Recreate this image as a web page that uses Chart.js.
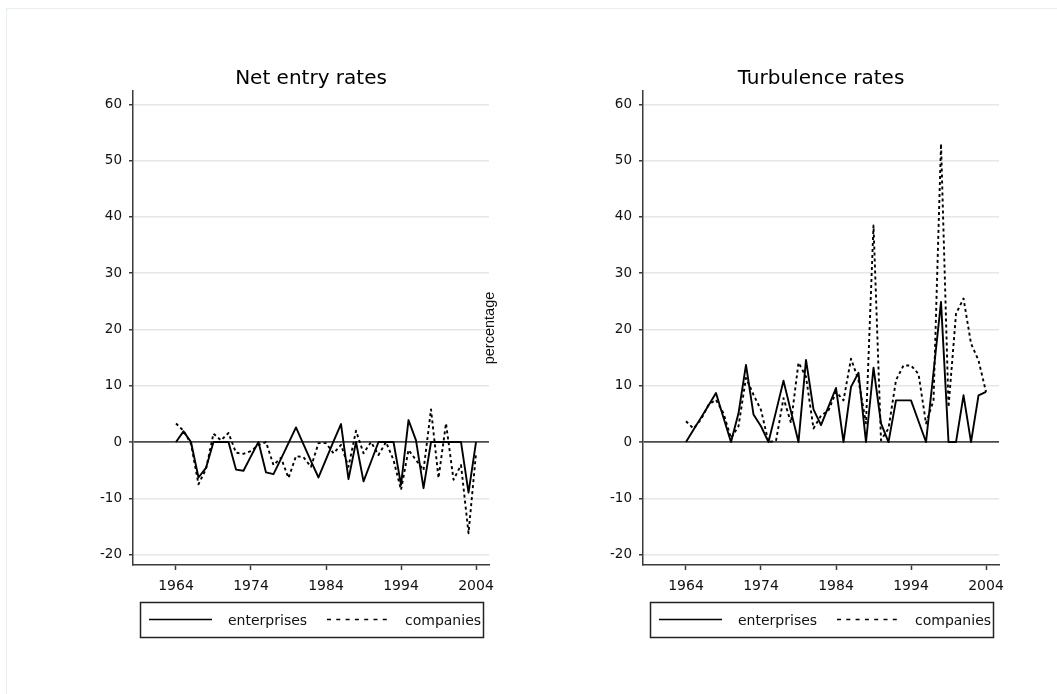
<!DOCTYPE html>
<html>
<head>
<meta charset="utf-8">
<title>Net entry and turbulence rates</title>
<script src="https://cdn.jsdelivr.net/npm/chart.js@4.4.1/dist/chart.umd.min.js"></script>
<style>
  html, body { margin: 0; padding: 0; background: #fff; }
  body { width: 1057px; height: 694px; position: relative; overflow: hidden; }
  .frame { position: absolute; left: 6px; top: 8px; width: 1070px; height: 710px; border: 1px solid #e8eeee; }
  canvas { position: absolute; top: 0; }
  #netChart { left: 0; }
  #turbChart { left: 470px; }
</style>
</head>
<body>
<div class="frame"></div>
<canvas id="netChart" width="528" height="694"></canvas>
<canvas id="turbChart" width="587" height="694"></canvas>
<script>
/* yearly rates, 1964-2004 (percent) */
const YEARS = [1964, 1965, 1966, 1967, 1968, 1969, 1970, 1971, 1972, 1973,
               1974, 1975, 1976, 1977, 1978, 1979, 1980, 1981, 1982, 1983,
               1984, 1985, 1986, 1987, 1988, 1989, 1990, 1991, 1992, 1993,
               1994, 1995, 1996, 1997, 1998, 1999, 2000, 2001, 2002, 2003, 2004];

const NET_ENTERPRISES = [0, 1.9, 0, -6.3, -4.6, 0, 0, 0, -4.9, -5.1,
                         -2.5, 0, -5.4, -5.7, -3.0, -0.2, 2.6, -0.4, -3.4, -6.3,
                         -3.1, 0.1, 3.2, -6.6, 0, -7.0, -3.5, 0, 0, 0,
                         -7.6, 3.9, 0.3, -8.2, 0, 0, 0, 0, 0, -9.0, 0];

const NET_COMPANIES = [3.3, 2.0, -0.3, -7.5, -4.8, 1.5, 0.3, 1.6, -1.9, -2.1,
                       -1.6, -0.5, 0, -4.1, -2.8, -6.4, -2.5, -2.7, -4.4, -0.2,
                       -0.2, -2.0, -0.5, -4.4, 2.0, -2.0, 0, -2.3, 0, -3.2,
                       -8.5, -1.4, -3.2, -5.0, 5.8, -6.4, 3.3, -6.7, -4.1, -16.2, -2.0];

const TURB_ENTERPRISES = [0, 2.2, 4.3, 6.5, 8.7, 4.3, 0, 5.1, 13.7, 4.9,
                          2.8, 0, 5.4, 10.9, 5.4, 0, 14.6, 5.8, 3.0, 6.3,
                          9.6, 0, 9.8, 12.3, 0, 13.2, 3.3, 0, 7.4, 7.4,
                          7.4, 3.7, 0, 12.4, 24.9, 0, 0, 8.3, 0, 8.3, 8.9];

const TURB_COMPANIES = [3.7, 2.4, 4.0, 6.6, 7.5, 5.1, 0.7, 2.8, 11.4, 8.4,
                        5.7, 0, 0.2, 7.8, 3.4, 14.1, 11.6, 2.4, 4.7, 5.6,
                        8.9, 7.4, 14.8, 11.0, 3.3, 38.5, 0.3, 2.4, 11.0, 13.6,
                        13.6, 12.1, 3.3, 7.4, 53.0, 6.2, 22.8, 25.5, 17.5, 14.5, 8.9];

const SERIES = ['enterprises', 'companies'];
const X_TICKS = [1964, 1974, 1984, 1994, 2004];
const Y_TICKS = [-20, -10, 0, 10, 20, 30, 40, 50, 60];

const FONT = "'DejaVu Sans', sans-serif";
const AXIS_GREY = '#3a3a3a';
const GRID_GREY = '#e6e6e6';
const ZERO_GREY = '#4a4a4a';

// plot frame shared by both panels (canvas pixels)
const PLOT_BOTTOM = 565;
const CANVAS_H = 694;

function toPoints(vals) {
    return YEARS.map((yr, i) => ({ x: yr, y: vals[i] }));
}

// stata-like legend: white box under the plot, line samples + labels
const boxLegend = {
    id: 'boxLegend',
    afterDraw(chart) {
        const { ctx, chartArea } = chart;
        const left = chartArea.left + 7;
        const top = 602;
        const w = 343, h = 35;
        const midY = top + h / 2;
        const items = [
            { x0: left + 9, x1: left + 72, tx: left + 88 },
            { x0: left + 187, x1: left + 247, tx: left + 265 }
        ];
        ctx.save();
        ctx.fillStyle = '#fff';
        ctx.fillRect(left, top, w, h);
        chart.data.datasets.forEach((ds, i) => {
            const it = items[i];
            ctx.beginPath();
            ctx.strokeStyle = ds.borderColor;
            ctx.lineWidth = 1.6;
            ctx.setLineDash(ds.borderDash.length ? [4, 5.3] : []);
            ctx.moveTo(it.x0, midY);
            ctx.lineTo(it.x1, midY);
            ctx.stroke();
            ctx.setLineDash([]);
            ctx.fillStyle = '#111';
            ctx.font = `14px ${FONT}`;
            ctx.textBaseline = 'alphabetic';
            ctx.textAlign = 'left';
            ctx.fillText(ds.label, it.tx, midY + 5);
        });
        ctx.strokeStyle = '#222';
        ctx.lineWidth = 1.5;
        ctx.strokeRect(left + 0.5, top + 0.5, w, h);
        ctx.restore();
    }
};

function makePanel(canvasId, title, enterprises, companies, opts) {
    const ctx = document.getElementById(canvasId).getContext('2d');
    return new Chart(ctx, {
        type: 'line',
        data: {
            datasets: [
                {
                    label: SERIES[0],
                    data: toPoints(enterprises),
                    borderColor: '#000',
                    borderWidth: 1.9,
                    borderDash: [],
                    borderJoinStyle: 'round',
                    pointRadius: 0,
                    tension: 0
                },
                {
                    label: SERIES[1],
                    data: toPoints(companies),
                    borderColor: '#000',
                    borderWidth: 1.9,
                    borderDash: [3, 3],
                    borderJoinStyle: 'round',
                    pointRadius: 0,
                    tension: 0
                }
            ]
        },
        options: {
            responsive: false,
            animation: false,
            events: [],
            layout: { padding: { left: 0, right: opts.padRight, top: 0, bottom: 0 } },
            plugins: {
                legend: { display: false },
                tooltip: { enabled: false },
                title: {
                    display: true,
                    text: title,
                    fullSize: false,
                    color: '#000',
                    font: { family: FONT, size: 20, weight: 'normal', lineHeight: 1.2 },
                    padding: { top: 67, bottom: 0 }
                }
            },
            scales: {
                x: {
                    type: 'linear',
                    min: 1958.27,
                    max: 2005.73,
                    afterBuildTicks: s => { s.ticks = X_TICKS.map(v => ({ value: v })); },
                    afterFit: s => {
                        s.height = CANVAS_H - PLOT_BOTTOM;
                        s.paddingLeft = 0;
                        s.paddingRight = 0;
                    },
                    border: { display: true, color: AXIS_GREY, width: 1.5 },
                    grid: {
                        drawOnChartArea: false,
                        drawTicks: true,
                        tickLength: 5,
                        tickColor: AXIS_GREY,
                        tickWidth: 1.5,
                        color: AXIS_GREY
                    },
                    ticks: {
                        autoSkip: false,
                        maxRotation: 0,
                        padding: 8,
                        color: '#111',
                        font: { family: FONT, size: 14 },
                        callback: v => String(v)
                    }
                },
                y: {
                    type: 'linear',
                    min: -21.85,
                    max: 62.37,
                    afterBuildTicks: s => { s.ticks = Y_TICKS.map(v => ({ value: v })); },
                    afterFit: s => {
                        s.width = opts.axisWidth;
                        s.paddingTop = 0;
                        s.paddingBottom = 0;
                    },
                    border: { display: true, color: AXIS_GREY, width: 1.5 },
                    grid: {
                        color: c => (c.tick && c.tick.value === 0 ? ZERO_GREY : GRID_GREY),
                        lineWidth: c => (c.tick && c.tick.value === 0 ? 1.8 : 1.5),
                        tickColor: AXIS_GREY,
                        tickLength: 4,
                        tickWidth: 1.5
                    },
                    ticks: {
                        padding: 7,
                        color: '#111',
                        font: { family: FONT, size: 13.5 }
                    },
                    title: opts.yTitle ? {
                        display: true,
                        text: opts.yTitle,
                        color: '#111',
                        font: { family: "'Liberation Sans', Arial, sans-serif", size: 14.5 },
                        padding: { top: 11.3, bottom: 0 }
                    } : { display: false }
                }
            }
        },
        plugins: [boxLegend]
    });
}

makePanel('netChart', 'Net entry rates', NET_ENTERPRISES, NET_COMPANIES,
    { axisWidth: 133, padRight: 39 });

makePanel('turbChart', 'Turbulence rates', TURB_ENTERPRISES, TURB_COMPANIES,
    { axisWidth: 173, padRight: 58, yTitle: 'percentage' });
</script>
</body>
</html>
